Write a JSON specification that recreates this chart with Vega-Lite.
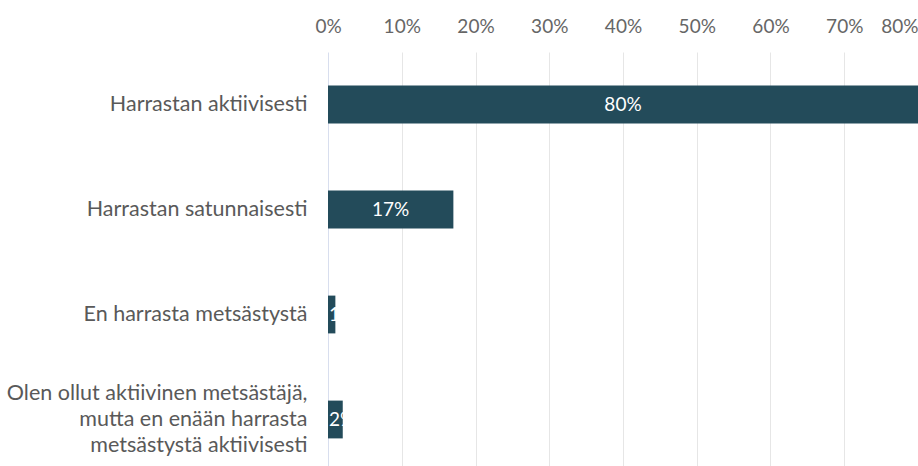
{
  "$schema": "https://vega.github.io/schema/vega-lite/v6.json",
  "autosize": "none",
  "width": 590,
  "height": 420,
  "padding": {"left": 328, "top": 52, "right": 0, "bottom": 0},
  "background": "white",
  "config": {
    "font": "Lato",
    "view": {"stroke": null}
  },
  "data": {
    "values": [
      {"vastaus": "Harrastan aktiivisesti", "osuus": 0.80},
      {"vastaus": "Harrastan satunnaisesti", "osuus": 0.17},
      {"vastaus": "En harrasta metsästystä", "osuus": 0.01},
      {"vastaus": "Olen ollut aktiivinen metsästäjä, mutta en enään harrasta metsästystä aktiivisesti", "osuus": 0.02}
    ]
  },
  "encoding": {
    "y": {
      "field": "vastaus",
      "type": "nominal",
      "sort": null,
      "title": null,
      "scale": {"paddingInner": 0.64, "paddingOuter": 0.32},
      "axis": {
        "domain": false,
        "ticks": false,
        "labelPadding": 21,
        "labelFontSize": 21.5,
        "labelColor": "#595959",
        "labelLineHeight": 26,
        "labelLimit": 400,
        "labelOffset": {"expr": "indexof(datum.value, 'Olen') == 0 ? -26 : 0"},
        "labelExpr": "indexof(datum.label, 'Olen') == 0 ? ['Olen ollut aktiivinen metsästäjä,', 'mutta en enään harrasta', 'metsästystä aktiivisesti'] : datum.label"
      }
    }
  },
  "layer": [
    {
      "mark": {"type": "bar", "color": "#234b5a"},
      "encoding": {
        "x": {
          "field": "osuus",
          "type": "quantitative",
          "title": null,
          "scale": {"domain": [0, 0.8], "nice": false},
          "axis": {
            "orient": "top",
            "format": ".0%",
            "values": [0, 0.1, 0.2, 0.3, 0.4, 0.5, 0.6, 0.7, 0.8],
            "domain": false,
            "ticks": false,
            "labelPadding": 16,
            "labelFontSize": 19,
            "labelColor": "#666666",
            "labelAlign": {"expr": "datum.value >= 0.8 ? 'right' : 'center'"},
            "labelDx": {"expr": "datum.value >= 0.8 ? -6 : 0"},
            "gridColor": {"expr": "datum.value == 0 ? '#d8deee' : '#e6e6e6'"},
            "gridWidth": 1
          }
        }
      }
    },
    {
      "transform": [
        {"filter": "datum.osuus >= 0.1"},
        {"calculate": "datum.osuus / 2", "as": "keski"}
      ],
      "mark": {"type": "text", "color": "white", "fontSize": 19, "align": "center", "baseline": "middle"},
      "encoding": {
        "x": {"field": "keski", "type": "quantitative"},
        "text": {"field": "osuus", "type": "quantitative", "format": ".0%"}
      }
    },
    {
      "transform": [{"filter": "datum.osuus < 0.1"}],
      "mark": {"type": "text", "color": "white", "fontSize": 19, "align": "left", "baseline": "middle", "dx": 1},
      "encoding": {
        "x": {"datum": 0, "type": "quantitative"},
        "text": {"field": "osuus", "type": "quantitative", "format": ".0%"}
      }
    }
  ]
}
